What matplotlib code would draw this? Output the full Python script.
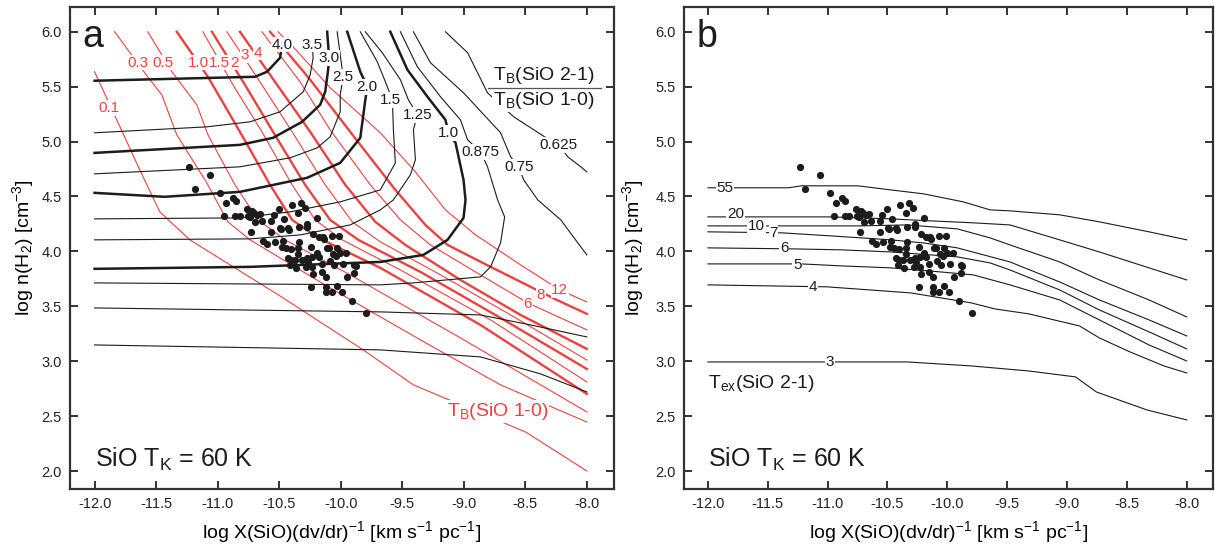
import matplotlib
matplotlib.use('Agg')
import matplotlib.pyplot as plt

plt.rcParams['font.family'] = ['Liberation Sans', 'DejaVu Sans']
plt.rcParams['axes.unicode_minus'] = False
plt.rcParams['mathtext.fontset'] = 'custom'
plt.rcParams['mathtext.rm'] = 'Liberation Sans'
plt.rcParams['mathtext.it'] = 'Liberation Sans:italic'
plt.rcParams['mathtext.bf'] = 'Liberation Sans:bold'

RED = '#e9423f'
INK = '#1c1c1c'
NARROW = ['Liberation Sans Narrow', 'Liberation Sans', 'DejaVu Sans']

# ---- observed SiO points (same in both panels)
sio_x = [-11.234, -11.063, -11.185, -10.982, -10.933, -10.876, -10.851, -10.949, -10.859, -10.819,
         -10.762, -10.721, -10.754, -10.737, -10.705, -10.680, -10.656, -10.697, -10.640, -10.729,
         -10.566, -10.542, -10.501, -10.460, -10.395, -10.322, -10.346, -10.289, -10.191, -10.493,
         -10.485, -10.428, -10.420, -10.566, -10.338, -10.273, -10.273, -10.224, -10.175, -10.143,
         -10.134, -10.069, -10.012, -10.631, -10.599, -10.534, -10.468, -10.338, -10.477, -10.444,
         -10.403, -10.346, -10.240, -10.110, -10.094, -10.029, -10.346, -10.191, -10.175, -10.061,
         -10.037, -10.004, -9.955, -10.428, -10.403, -10.371, -10.314, -10.273, -10.232, -10.265,
         -10.151, -10.086, -10.053, -10.411, -10.362, -10.281, -10.232, -9.980, -9.890, -9.874,
         -10.224, -10.151, -10.118, -9.890, -9.947, -10.240, -10.118, -10.118, -10.069, -10.029,
         -9.988, -9.906, -9.792]
sio_y = [4.770, 4.697, 4.569, 4.533, 4.442, 4.487, 4.460, 4.323, 4.323, 4.323,
         4.387, 4.369, 4.323, 4.314, 4.351, 4.333, 4.342, 4.269, 4.278, 4.178,
         4.278, 4.333, 4.387, 4.296, 4.424, 4.442, 4.351, 4.396, 4.305, 4.214,
         4.205, 4.214, 4.196, 4.178, 4.223, 4.251, 4.223, 4.160, 4.132, 4.132,
         4.114, 4.141, 4.141, 4.096, 4.068, 4.087, 4.096, 4.087, 4.041, 4.032,
         4.023, 4.032, 4.041, 4.032, 4.032, 4.032, 3.977, 3.986, 3.950, 3.977,
         3.959, 3.986, 3.986, 3.941, 3.923, 3.923, 3.923, 3.941, 3.950, 3.904,
         3.886, 3.913, 3.877, 3.877, 3.850, 3.859, 3.859, 3.886, 3.877, 3.868,
         3.795, 3.813, 3.768, 3.804, 3.768, 3.677, 3.677, 3.631, 3.631, 3.686,
         3.631, 3.549, 3.440]

# ---- panel a: TB(2-1)/TB(1-0) contours (black)
rat40_x = [-12.0, -10.696, -10.598, -10.493, -10.477]
rat40_y = [5.554, 5.590, 5.636, 5.763, 5.882]
rat35_x = [-12.0, -11.088, -10.737, -10.493, -10.305, -10.248, -10.224, -10.232]
rat35_y = [5.080, 5.134, 5.180, 5.271, 5.453, 5.608, 5.763, 5.882]
rat30_x = [-12.0, -10.819, -10.550, -10.314, -10.167, -10.126, -10.102, -10.094, -10.110]
rat30_y = [4.897, 4.970, 5.034, 5.180, 5.335, 5.453, 5.654, 5.763, 6.0]
rat25_x = [-12.0, -10.819, -10.411, -10.191, -10.086, -10.004, -10.004, -9.980, -10.029]
rat25_y = [4.706, 4.770, 4.852, 4.943, 5.043, 5.271, 5.426, 5.590, 6.0]
rat20_x = [-12.0, -11.430, -10.819, -10.273, -10.004, -9.841, -9.800, -9.784, -9.841, -9.947]
rat20_y = [4.533, 4.497, 4.542, 4.670, 4.806, 5.034, 5.380, 5.499, 5.636, 6.0]
rat15_x = [-12.0, -10.819, -10.411, -10.004, -9.678, -9.556, -9.572, -9.580, -9.637, -9.703, -9.841]
rat15_y = [4.296, 4.305, 4.360, 4.451, 4.560, 4.806, 5.107, 5.380, 5.544, 5.727, 6.0]
rat125_x = [-12.0, -10.737, -10.330, -9.923, -9.678, -9.572, -9.434, -9.393, -9.409, -9.377,
            -9.450, -9.515, -9.662, -9.800]
rat125_y = [4.105, 4.114, 4.150, 4.241, 4.378, 4.469, 4.697, 4.834, 5.107, 5.244,
            5.380, 5.563, 5.809, 6.0]
rat10_x = [-12.0, -10.737, -9.678, -9.328, -9.132, -9.002, -8.986, -9.002, -9.067, -9.124,
           -9.149, -9.295, -9.458, -9.597]
rat10_y = [3.841, 3.859, 3.904, 3.968, 4.105, 4.305, 4.469, 4.651, 4.989, 5.080,
           5.198, 5.408, 5.654, 6.0]
rat0875_x = [-12.0, -9.678, -9.409, -8.864, -8.782, -8.701, -8.668, -8.725, -8.807, -8.864,
             -8.969, -9.027, -9.189, -9.377, -9.515]
rat0875_y = [3.713, 3.695, 3.713, 3.768, 3.859, 4.078, 4.314, 4.469, 4.770, 4.907,
             5.016, 5.198, 5.408, 5.681, 6.0]
rat075a_x = [-12.0, -9.678, -8.864, -8.456, -8.0]
rat075a_y = [3.485, 3.449, 3.421, 3.330, 3.221]
rat075b_x = [-9.409, -9.271, -9.002, -8.701, -8.619, -8.554, -8.513, -8.399, -8.212, -8.049, -8.0]
rat075b_y = [6.0, 5.718, 5.444, 5.080, 4.861, 4.770, 4.651, 4.469, 4.287, 4.041, 3.968]
rat0625a_x = [-12.0, -9.678, -8.864, -8.375, -8.0]
rat0625a_y = [3.148, 3.103, 3.039, 2.884, 2.720]
rat0625b_x = [-9.149, -8.969, -8.807, -8.595, -8.318, -8.228, -8.155, -8.049, -8.0]
rat0625b_y = [6.0, 5.809, 5.444, 5.226, 5.025, 4.970, 4.861, 4.770, 4.724]

ratio_labels = ['4.0', '3.5', '3.0', '2.5', '2.0', '1.5', '1.25', '1.0', '0.875', '0.75', '0.625']
ratio_lab_x = [-10.477, -10.232, -10.094, -9.980, -9.784, -9.597, -9.377, -9.124, -8.864, -8.554, -8.228]
ratio_lab_y = [5.882, 5.882, 5.763, 5.590, 5.499, 5.380, 5.244, 5.080, 4.907, 4.770, 4.970]

# ---- panel a: TB(SiO 1-0) contours (red)
tb01_x = [-12.0, -11.633, -11.470, -11.226, -10.493, -9.817, -9.409, -8.497, -8.0]
tb01_y = [5.636, 4.743, 4.360, 4.105, 3.594, 3.103, 2.784, 2.355, 2.0]
tb03_x = [-11.837, -11.593, -11.454, -11.332, -11.088, -10.917, -10.737, -10.086, -9.352, -8.701, -8.0]
tb03_y = [6.0, 5.626, 5.426, 5.062, 4.624, 4.269, 4.105, 3.667, 3.194, 2.784, 2.446]
tb05_x = [-11.568, -11.365, -11.169, -11.079, -10.859, -10.672, -10.452, -9.923, -9.027, -8.0]
tb05_y = [6.0, 5.626, 5.335, 5.062, 4.606, 4.287, 4.105, 3.786, 3.212, 2.538]
tb10_x = [-11.332, -11.079, -10.819, -10.574, -10.395, -10.183, -9.678, -8.864, -8.0]
tb10_y = [6.0, 5.590, 5.089, 4.606, 4.287, 4.123, 3.850, 3.330, 2.702]
tb15_x = [-11.120, -10.876, -10.640, -10.395, -10.208, -9.988, -9.515, -8.782, -8.0]
tb15_y = [6.0, 5.517, 5.089, 4.606, 4.287, 4.105, 3.831, 3.376, 2.811]
tb2_x = [-11.047, -10.778, -10.550, -10.289, -10.086, -9.857, -9.352, -8.701, -8.0]
tb2_y = [6.0, 5.517, 5.089, 4.606, 4.287, 4.105, 3.813, 3.394, 2.929]
tb3_x = [-10.925, -10.656, -10.395, -10.126, -9.906, -9.678, -9.189, -8.619, -8.0]
tb3_y = [6.0, 5.544, 5.089, 4.606, 4.269, 4.087, 3.786, 3.421, 3.011]
tb4_x = [-10.819, -10.534, -10.248, -9.963, -9.719, -9.475, -9.027, -8.538, -8.0]
tb4_y = [6.0, 5.544, 5.089, 4.606, 4.269, 4.059, 3.740, 3.421, 3.112]
tb6_x = [-10.640, -10.330, -10.086, -9.760, -9.515, -9.271, -8.864, -8.481, -8.0]
tb6_y = [6.0, 5.544, 5.107, 4.606, 4.287, 4.059, 3.786, 3.531, 3.285]
tb8_x = [-10.574, -10.248, -9.923, -9.556, -9.312, -9.132, -8.782, -8.244, -8.0]
tb8_y = [6.0, 5.563, 5.089, 4.560, 4.241, 4.059, 3.859, 3.558, 3.431]
tb12_x = [-10.509, -10.387, -10.086, -9.678, -9.393, -9.149, -8.904, -8.538, -8.220, -8.0]
tb12_y = [6.0, 5.863, 5.490, 5.080, 4.724, 4.378, 4.150, 3.877, 3.649, 3.540]

tb_labels = ['0.1', '0.3', '0.5', '1.0', '1.5', '2', '3', '4', '6', '8', '12']
tb_lab_x = [-11.886, -11.650, -11.446, -11.153, -10.982, -10.859, -10.778, -10.672, -8.481, -8.375, -8.220]
tb_lab_y = [5.308, 5.718, 5.718, 5.718, 5.718, 5.718, 5.790, 5.809, 3.525, 3.600, 3.645]

# ---- panel b: Tex(SiO 2-1) contours
tex55_x = [-12.0, -11.328, -11.220, -10.747, -10.473, -10.199, -9.867, -9.643, -9.477, -9.062, -8.730, -8.315, -8.0]
tex55_y = [4.579, 4.579, 4.597, 4.597, 4.560, 4.524, 4.451, 4.378, 4.369, 4.333, 4.269, 4.178, 4.105]
tex20_x = [-12.0, -10.971, -10.473, -10.141, -9.784, -9.477, -9.062, -8.730, -8.315, -8.0]
tex20_y = [4.314, 4.314, 4.296, 4.278, 4.260, 4.241, 4.105, 3.995, 3.850, 3.740]
tex10_x = [-12.0, -10.747, -10.332, -9.917, -9.643, -9.477, -9.062, -8.730, -8.315, -8.0]
tex10_y = [4.232, 4.232, 4.241, 4.205, 4.123, 4.059, 3.904, 3.740, 3.558, 3.403]
tex7_x = [-12.0, -11.386, -10.971, -10.473, -10.199, -9.917, -9.477, -9.062, -8.730, -8.315, -8.0]
tex7_y = [4.178, 4.169, 4.141, 4.105, 4.077, 4.032, 3.904, 3.722, 3.558, 3.376, 3.230]
tex6_x = [-12.0, -11.303, -10.888, -10.473, -9.917, -9.643, -9.477, -9.062, -8.730, -8.315, -8.0]
tex6_y = [4.032, 4.023, 4.014, 3.995, 3.950, 3.895, 3.831, 3.649, 3.467, 3.267, 3.112]
tex5_x = [-12.0, -11.220, -10.888, -10.473, -10.058, -9.784, -9.477, -9.062, -8.730, -8.315, -8.0]
tex5_y = [3.886, 3.886, 3.868, 3.850, 3.813, 3.786, 3.695, 3.558, 3.376, 3.148, 3.002]
tex4_x = [-12.0, -11.004, -10.307, -9.801, -9.602, -9.320, -8.896, -8.730, -8.473, -8.191, -8.0]
tex4_y = [3.695, 3.677, 3.622, 3.531, 3.476, 3.431, 3.321, 3.212, 3.084, 2.957, 2.893]
tex3_x = [-12.0, -10.332, -9.801, -9.320, -8.929, -8.755, -8.332, -8.0]
tex3_y = [2.993, 2.993, 2.957, 2.911, 2.857, 2.720, 2.556, 2.465]

tex_labels = ['55', '20', '10', '7', '6', '5', '4', '3']
tex_lab_x = [-11.859, -11.768, -11.593, -11.452, -11.361, -11.253, -11.120, -10.979]
tex_lab_y = [4.579, 4.342, 4.228, 4.165, 4.030, 3.880, 3.675, 2.993]

xticks = [-12.0, -11.5, -11.0, -10.5, -10.0, -9.5, -9.0, -8.5, -8.0]
yticks = [2.0, 2.5, 3.0, 3.5, 4.0, 4.5, 5.0, 5.5, 6.0]

xlabel = r'log X(SiO)(dv/dr)$^{\mathregular{-1}}$ [km s$^{\mathregular{-1}}$ pc$^{\mathregular{-1}}$]'
ylabel = r'log n(H$_{\mathregular{2}}$) [cm$^{\mathregular{-3}}$]'
tk_text = r'SiO T$_{\mathregular{K}}$ = 60 K'

white = dict(boxstyle='square,pad=0.05', fc='white', ec='none')


def style_axes(ax, ylab_x):
    ax.set_xlim(-12.2, -7.78)
    ax.set_ylim(1.836, 6.23)
    ax.set_xticks(xticks)
    ax.set_xticklabels([f'{t:.1f}' for t in xticks])
    ax.set_yticks(yticks)
    ax.set_yticklabels([f'{t:.1f}' for t in yticks])
    ax.tick_params(direction='in', length=6, width=1.3, top=True, right=True,
                   labelsize=10.5, pad=6, colors='#222222')
    for sp in ax.spines.values():
        sp.set_linewidth(1.6)
        sp.set_color('#333333')
    ax.set_xlabel(xlabel, fontsize=14)
    ax.set_ylabel(ylabel, fontsize=14)
    ax.xaxis.set_label_coords(0.5, -0.062)
    ax.yaxis.set_label_coords(ylab_x, 0.5)
    ax.scatter(sio_x, sio_y, s=27, color=INK, zorder=5, linewidths=0)
    ax.text(-12.0, 2.036, tk_text, fontsize=18, color=INK, va='baseline', ha='left')


fig = plt.figure(figsize=(12.21, 5.51), dpi=100)
ax_a = fig.add_axes([0.0573, 0.1125, 0.4455, 0.8757])
ax_b = fig.add_axes([0.5602, 0.1125, 0.4333, 0.8757])

# panel a
red_lines = [(tb01_x, tb01_y, 0.8), (tb03_x, tb03_y, 0.8), (tb05_x, tb05_y, 0.8),
             (tb10_x, tb10_y, 1.7), (tb15_x, tb15_y, 0.8), (tb2_x, tb2_y, 1.7),
             (tb3_x, tb3_y, 0.8), (tb4_x, tb4_y, 1.7), (tb6_x, tb6_y, 0.8),
             (tb8_x, tb8_y, 1.7), (tb12_x, tb12_y, 0.8)]
for xs, ys, lw in red_lines:
    ax_a.plot(xs, ys, color=RED, lw=lw, zorder=2, solid_joinstyle='round')

black_lines = [(rat40_x, rat40_y, 1.8), (rat35_x, rat35_y, 0.8), (rat30_x, rat30_y, 1.8),
               (rat25_x, rat25_y, 0.8), (rat20_x, rat20_y, 1.8), (rat15_x, rat15_y, 0.8),
               (rat125_x, rat125_y, 0.8), (rat10_x, rat10_y, 1.8), (rat0875_x, rat0875_y, 0.8),
               (rat075a_x, rat075a_y, 0.8), (rat075b_x, rat075b_y, 0.8),
               (rat0625a_x, rat0625a_y, 0.8), (rat0625b_x, rat0625b_y, 0.8)]
for xs, ys, lw in black_lines:
    ax_a.plot(xs, ys, color=INK, lw=lw, zorder=3, solid_joinstyle='round')

for lab, x, y in zip(ratio_labels, ratio_lab_x, ratio_lab_y):
    ax_a.text(x, y, lab, fontsize=11, family=NARROW, color=INK, ha='center', va='center',
              bbox=white, zorder=6)
for lab, x, y in zip(tb_labels, tb_lab_x, tb_lab_y):
    ax_a.text(x, y, lab, fontsize=11, family=NARROW, color=RED, ha='center', va='center',
              bbox=white, zorder=6)

ax_a.text(-8.725, 2.54, r'T$_{\mathregular{B}}$(SiO 1-0)', fontsize=14, color=RED,
          ha='center', va='center', bbox=white, zorder=6)
ax_a.text(-8.35, 5.505, r'T$_{\mathregular{B}}$(SiO 2-1)', fontsize=14, color=INK,
          ha='center', va='bottom', bbox=white, zorder=6)
ax_a.text(-8.35, 5.47, r'T$_{\mathregular{B}}$(SiO 1-0)', fontsize=14, color=INK,
          ha='center', va='top', bbox=white, zorder=6)
ax_a.plot([-8.807, -7.886], [5.49, 5.49], color='#555555', lw=0.9, zorder=7)
ax_a.text(-12.098, 5.863, 'a', fontsize=27, color=INK, ha='left', va='baseline')
style_axes(ax_a, -0.062)

# panel b
tex_lines = [(tex55_x, tex55_y), (tex20_x, tex20_y), (tex10_x, tex10_y), (tex7_x, tex7_y),
             (tex6_x, tex6_y), (tex5_x, tex5_y), (tex4_x, tex4_y), (tex3_x, tex3_y)]
for xs, ys in tex_lines:
    ax_b.plot(xs, ys, color=INK, lw=0.8, zorder=3)
for lab, x, y in zip(tex_labels, tex_lab_x, tex_lab_y):
    ax_b.text(x, y, lab, fontsize=11, family=NARROW, color=INK, ha='center', va='center',
              bbox=white, zorder=6)
ax_b.text(-12.0, 2.80, r'T$_{\mathregular{ex}}$(SiO 2-1)', fontsize=14, color=INK,
          ha='left', va='center')
ax_b.text(-12.091, 5.863, 'b', fontsize=27, color=INK, ha='left', va='baseline')
style_axes(ax_b, -0.072)

fig.savefig('out.png', dpi=100)
